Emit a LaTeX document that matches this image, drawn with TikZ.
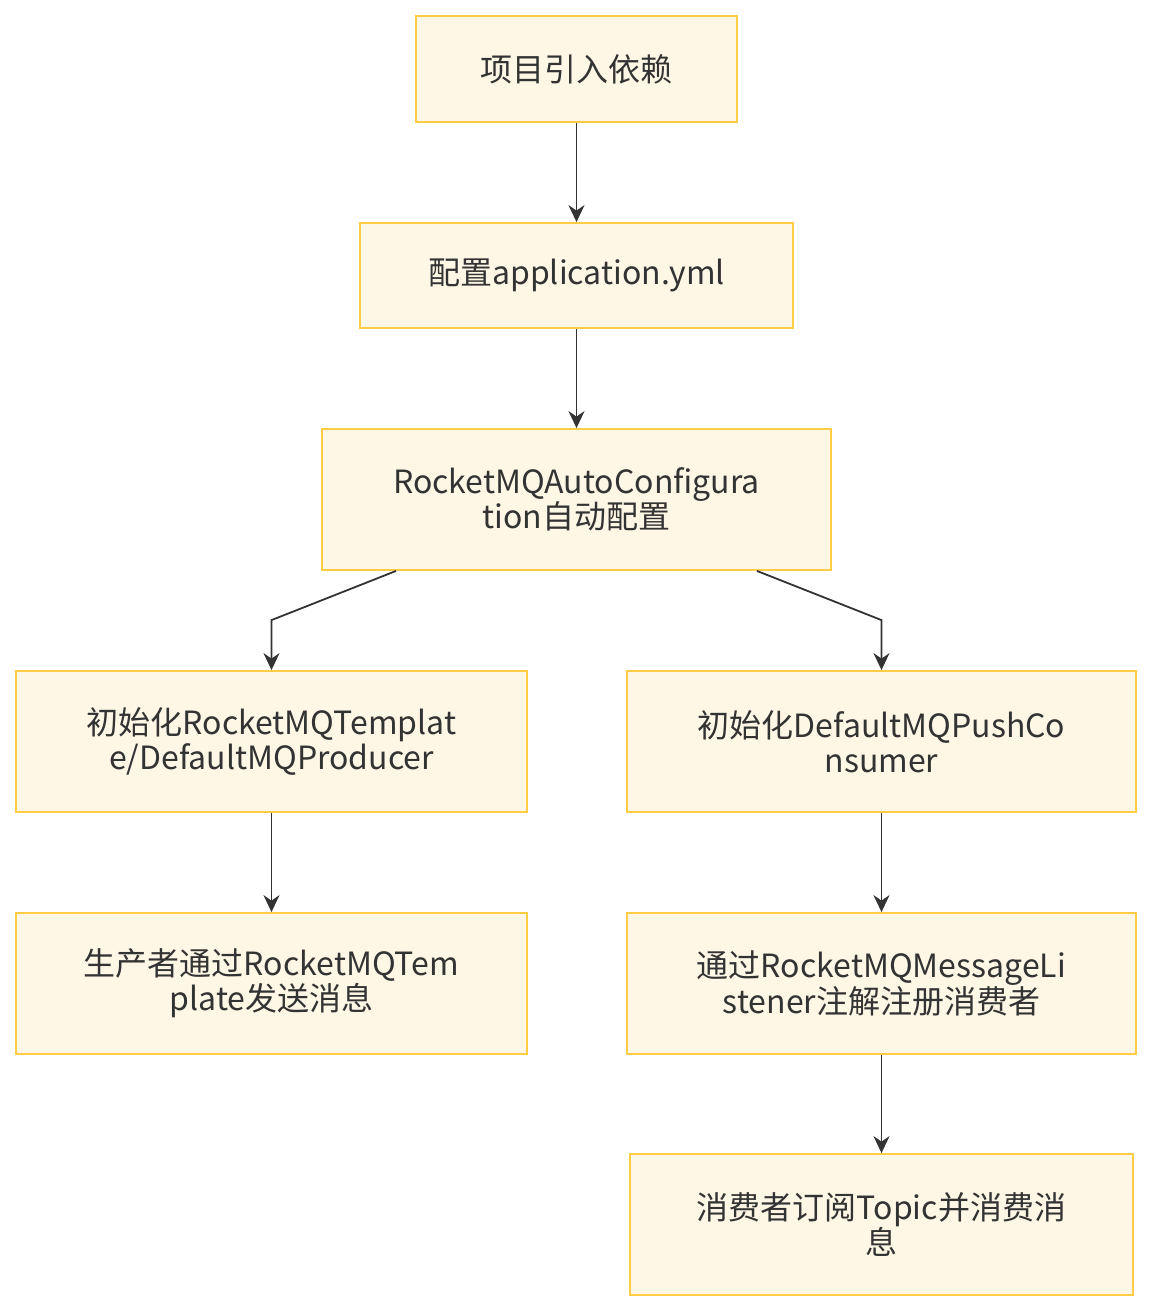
\documentclass[tikz,border=0pt]{standalone}
\usepackage{fontspec}
\setmainfont{Noto Sans CJK SC}
\usetikzlibrary{arrows.meta}
\definecolor{boxfill}{RGB}{255,247,229}
\definecolor{boxline}{RGB}{255,204,70}
\definecolor{inkgray}{RGB}{51,51,51}
\tikzset{
  flowbox/.style={draw=boxline, fill=boxfill, line width=1.8pt, align=center,
    text=inkgray, font=\fontsize{32}{35}\selectfont, inner sep=0pt},
  flowline/.style={draw=inkgray, line width=1.8pt, -{Stealth[length=17pt,width=16pt]}}
}
\begin{document}
\begin{tikzpicture}[x=1pt,y=-1pt]
  \useasboundingbox (0,0) rectangle (1152,1312);
  % main chain
  \node[flowbox, minimum width=321pt, minimum height=106pt] (dep) at (576.5,69) {项目引入依赖};
  \node[flowbox, minimum width=433pt, minimum height=105pt] (yml) at (576.5,275.5) {配置application.yml};
  \node[flowbox, minimum width=509pt, minimum height=141pt] (auto) at (576.5,499.5) {RocketMQAutoConfigura\\tion自动配置};
  % producer side
  \node[flowbox, minimum width=511pt, minimum height=141pt] (prod) at (271.5,741.5) {初始化RocketMQTemplat\\e/DefaultMQProducer};
  \node[flowbox, minimum width=511pt, minimum height=141pt] (send) at (271.5,983.5) {生产者通过RocketMQTem\\plate发送消息};
  % consumer side
  \node[flowbox, minimum width=509pt, minimum height=141pt] (cons) at (881.5,741.5) {初始化DefaultMQPushCo\\nsumer};
  \node[flowbox, minimum width=509pt, minimum height=141pt] (listen) at (881.5,983.5) {通过RocketMQMessageLi\\stener注解注册消费者};
  \node[flowbox, minimum width=503pt, minimum height=141pt] (sub) at (881.5,1224.5) {消费者订阅Topic并消费消\\息};
  % connectors
  \draw[flowline] (dep) -- (yml);
  \draw[flowline] (yml) -- (auto);
  \draw[flowline] ([xshift=75pt]auto.south west) -- ([yshift=50pt]prod.north) -- (prod.north);
  \draw[flowline] ([xshift=-75pt]auto.south east) -- ([yshift=50pt]cons.north) -- (cons.north);
  \draw[flowline] (prod) -- (send);
  \draw[flowline] (cons) -- (listen);
  \draw[flowline] (listen) -- (sub);
\end{tikzpicture}
\end{document}
